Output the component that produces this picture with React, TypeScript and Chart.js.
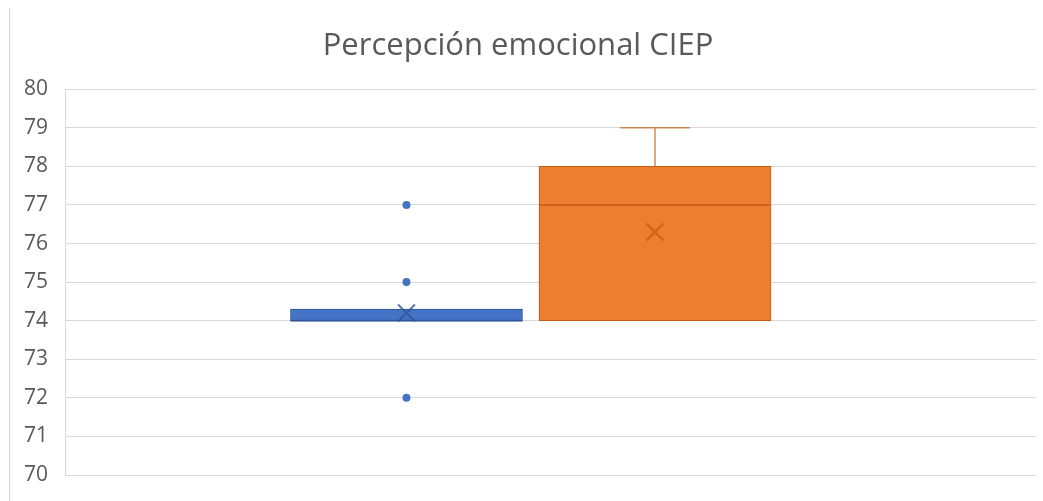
import { useEffect, useRef } from 'react';
import { Chart, registerables } from 'chart.js';

Chart.register(...registerables);

const chartTitle = 'Percepción emocional CIEP';
const seriesNames = ['Serie 1', 'Serie 2'];
const q1Values = [74, 74];
const q3Values = [74.3, 78];
const medianValues = [74, 77];
const whiskerLowValues = [74, 74];
const whiskerHighValues = [74.3, 79];
const meanValues = [74.2, 76.3];
const outlierValues = [[72, 75, 77], []];
const yMin = 70;
const yMax = 80;
const yStep = 1;

const fillColors = ['#4472C4', '#ED7D31'];
const edgeColors = ['#2F5597', '#C55A11'];
const textColor = '#595959';
const gridColor = '#D9D9D9';

const boxPlugin = {
  id: 'boxWhisker',
  afterDatasetsDraw(chart: any) {
    const ctx = chart.ctx;
    const yScale = chart.scales.y;
    seriesNames.forEach((_, i) => {
      const meta = chart.getDatasetMeta(i);
      const bar: any = meta.data[0];
      if (!bar) return;
      const cx = bar.x;
      const w = bar.width;
      ctx.save();
      ctx.strokeStyle = edgeColors[i];
      ctx.globalAlpha = 0.75;
      ctx.lineWidth = 2;
      const my = yScale.getPixelForValue(medianValues[i]);
      ctx.beginPath();
      ctx.moveTo(cx - w / 2, my);
      ctx.lineTo(cx + w / 2, my);
      ctx.stroke();
      ctx.lineWidth = 1.5;
      ctx.globalAlpha = 0.7;
      const capHalf = w * 0.15;
      const drawWhisker = (from: number, to: number) => {
        if (Math.abs(from - to) < 1e-9) return;
        const p1 = yScale.getPixelForValue(from);
        const p2 = yScale.getPixelForValue(to);
        ctx.beginPath();
        ctx.moveTo(cx, p1);
        ctx.lineTo(cx, p2);
        ctx.moveTo(cx - capHalf, p2);
        ctx.lineTo(cx + capHalf, p2);
        ctx.stroke();
      };
      drawWhisker(q3Values[i], whiskerHighValues[i]);
      drawWhisker(q1Values[i], whiskerLowValues[i]);
      ctx.restore();
    });
  },
};

const borderPlugin = {
  id: 'leftFrame',
  beforeDraw(chart: any) {
    const ctx = chart.ctx;
    ctx.save();
    ctx.fillStyle = '#D9D9D9';
    ctx.fillRect(9, 8, 1, chart.height - 8);
    ctx.restore();
  },
};

export default function App() {
  const canvasRef = useRef<HTMLCanvasElement | null>(null);

  useEffect(() => {
    if (!canvasRef.current) return;
    const barSets = seriesNames.map((name, i) => ({
      type: 'bar' as const,
      label: name,
      data: [{ x: i, y: [q1Values[i], q3Values[i]] }],
      backgroundColor: fillColors[i],
      borderColor: edgeColors[i],
      borderWidth: 1,
      borderSkipped: false,
      barThickness: 232,
      grouped: false,
      order: 2,
    }));
    const meanSet = {
      type: 'scatter' as const,
      label: 'Media',
      data: meanValues.map((m, i) => ({ x: i, y: m })),
      pointStyle: 'crossRot',
      pointRadius: 12,
      pointBorderWidth: 2,
      pointBorderColor: edgeColors.map((c) => c + 'CC'),
      pointBackgroundColor: 'transparent',
      order: 0,
    };
    const outlierSet = {
      type: 'scatter' as const,
      label: 'Valores atípicos',
      data: outlierValues.flatMap((arr, i) => arr.map((v) => ({ x: i, y: v }))),
      pointStyle: 'circle',
      pointRadius: 4,
      pointBorderWidth: 0,
      pointBackgroundColor: outlierValues.flatMap((arr, i) => arr.map(() => fillColors[i])),
      order: 0,
    };
    const chart = new Chart(canvasRef.current, {
      type: 'bar',
      data: { datasets: [...barSets, meanSet, outlierSet] as any },
      options: {
        animation: false,
        responsive: false,
        layout: { autoPadding: false, padding: { left: 0, right: 7, top: 0, bottom: 26 } },
        plugins: {
          legend: { display: false },
          tooltip: { enabled: false },
          title: {
            display: true,
            text: chartTitle,
            color: textColor,
            font: { family: 'Open Sans', size: 31, weight: 'normal' },
            padding: { top: 28, bottom: 24 },
          },
        },
        scales: {
          x: {
            type: 'linear',
            display: false,
            offset: false,
            min: -1.374,
            max: 2.533,
            grid: { offset: false },
          },
          y: {
            min: yMin,
            max: yMax,
            afterFit: (scale: any) => {
              scale.width = 65;
              scale.paddingTop = 0;
              scale.paddingBottom = 0;
            },
            ticks: {
              stepSize: yStep,
              color: textColor,
              padding: 17,
              font: { family: 'Open Sans', size: 21 },
            },
            grid: { color: gridColor, lineWidth: 1, drawTicks: false },
            border: { display: true, color: gridColor, width: 1 },
          },
        },
      },
      plugins: [boxPlugin, borderPlugin],
    } as any);
    return () => chart.destroy();
  }, []);

  return (
    <div style={{ position: 'absolute', left: 0, top: 0, width: 1043, height: 501, background: '#fff' }}>
      <canvas ref={canvasRef} width={1043} height={501} style={{ display: 'block' }} />
    </div>
  );
}
